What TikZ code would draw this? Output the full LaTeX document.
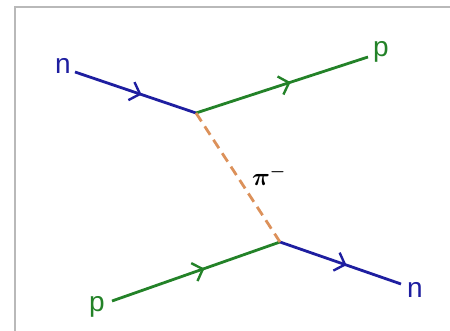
\documentclass[tikz,border=0pt]{standalone}
\usepackage{amsmath}
\usepackage{fontspec}
\setmainfont{Liberation Sans}
\usetikzlibrary{arrows.meta}
\usetikzlibrary{decorations.markings}

\definecolor{nblue}{RGB}{30,30,160}
\definecolor{pgreen}{RGB}{35,130,40}
\definecolor{pionorange}{RGB}{220,145,90}
\definecolor{framegray}{RGB}{185,185,185}

\tikzset{
  fermion/.style={line width=2.8pt, postaction={decorate},
    decoration={markings, mark=at position .55 with {\arrow[line width=2.4pt]{Straight Barb[length=9pt,width=19pt]}}}},
  pionline/.style={pionorange, line width=2.8pt, dash pattern=on 10pt off 6pt},
  lbl/.style={anchor=base, inner sep=0pt}
}

\begin{document}
\begin{tikzpicture}[x=1pt, y=-1pt, font=\fontsize{28}{32}\selectfont]
  % Frame of the picture
  \useasboundingbox (0,0) rectangle (450,331);
  \draw[framegray, line width=1.5pt] (15,331) -- (15,7) -- (450,7);

  % Vertices and free ends (define key points first)
  \coordinate (top) at (196,113);        % Upper vertex
  \coordinate (bot) at (280,242);        % Lower vertex
  \coordinate (nin) at (75,72);          % Incoming neutron
  \coordinate (pout) at (368,57);        % Outgoing proton
  \coordinate (pin) at (112,301);        % Incoming proton
  \coordinate (nout) at (401,284);       % Outgoing neutron

  % Particle labels
  \node[lbl, nblue] (nlabin) at (63,74) {n};
  \node[lbl, pgreen] (plabout) at (381,57) {p};
  \node[lbl, pgreen] (plabin) at (97,312) {p};
  \node[lbl, nblue] (nlabout) at (415,298) {n};
  \node[lbl, font=\fontsize{34}{38}\selectfont] (pilab) at (269,186) {$\boldsymbol{\pi}^{\scriptscriptstyle\boldsymbol{-}}$};

  % Fermion lines
  \draw[fermion, nblue] (nin) -- (top);   % n in
  \draw[fermion, pgreen] (top) -- (pout); % p out
  \draw[fermion, pgreen] (pin) -- (bot);  % p in
  \draw[fermion, nblue] (bot) -- (nout);  % n out

  % Exchanged pion
  \draw[pionline] (top) -- (bot);
\end{tikzpicture}
\end{document}
